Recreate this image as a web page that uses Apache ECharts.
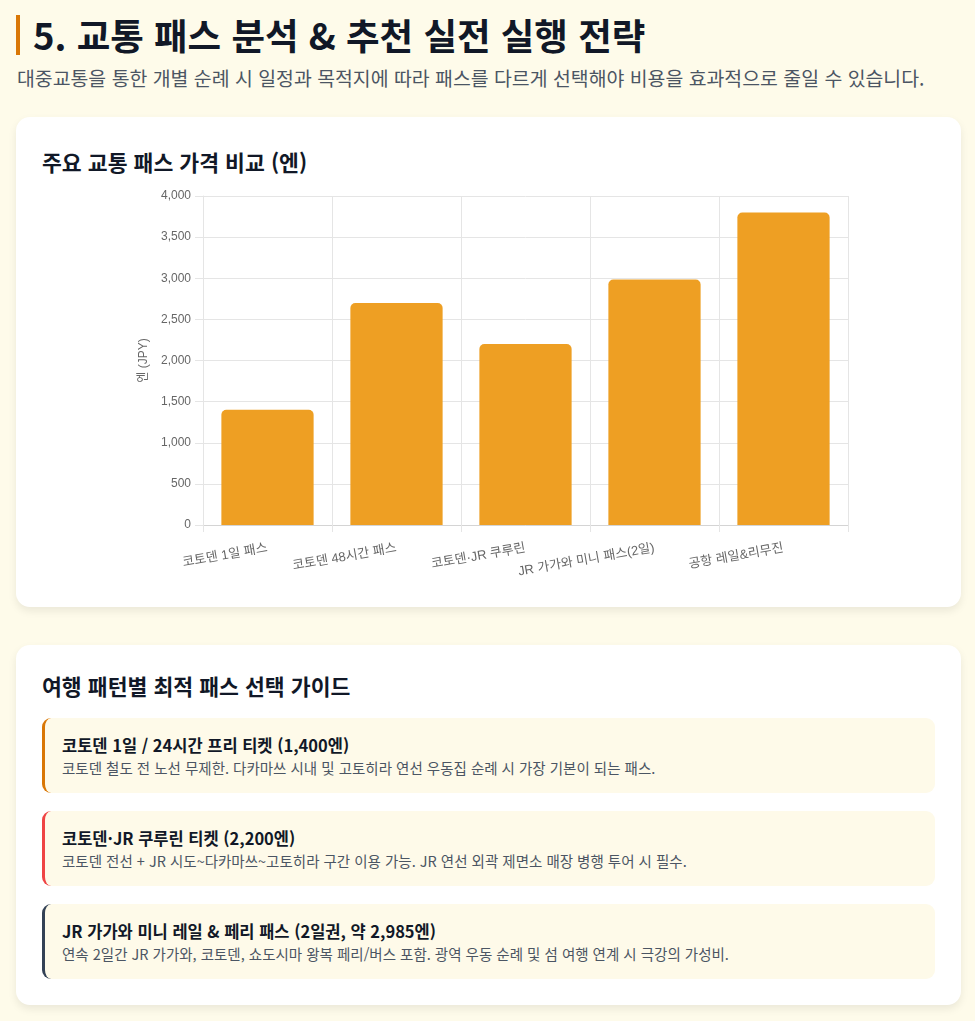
<!DOCTYPE html>
<html lang="ko">
<head>
<meta charset="utf-8">
<script src="https://cdn.jsdelivr.net/npm/echarts@6/dist/echarts.min.js"></script>
<style>
  html, body { margin:0; padding:0; }
  body { width:975px; height:1021px; background:#fefbea; position:relative; overflow:hidden;
         font-family:"Noto Sans CJK KR","Noto Sans",sans-serif; color:#111827; }
  .abs { position:absolute; }
  #h1 { left:16px; top:15px; height:40px; border-left:4px solid #d97706; padding-left:13px;
        font-size:36.5px; font-weight:700; line-height:40px; color:#111827; white-space:nowrap; }
  #sub { left:17px; top:66px; font-size:19.4px; line-height:24px; color:#4b5563; white-space:nowrap; }
  .card { background:#fff; border-radius:14px; box-shadow:0 4px 8px rgba(0,0,0,0.08); }
  .ctitle { font-size:21.6px; font-weight:700; color:#111827; white-space:nowrap; line-height:28px; }
  .item { left:26px; width:890px; height:75px; background:#fefae9; border-radius:9px; border-left:3px solid; }
  .it { position:absolute; left:17px; top:16px; font-size:16.5px; font-weight:700; line-height:22px; color:#111827; white-space:nowrap; }
  .id { position:absolute; left:17px; top:40px; font-size:14.5px; line-height:20px; color:#4b5563; white-space:nowrap; }
</style>
</head>
<body>
<div id="h1" class="abs">5. 교통 패스 분석 &amp; 추천 실전 실행 전략</div>
<div id="sub" class="abs">대중교통을 통한 개별 순례 시 일정과 목적지에 따라 패스를 다르게 선택해야 비용을 효과적으로 줄일 수 있습니다.</div>

<div class="abs card" style="left:16px;top:117px;width:945px;height:490px;">
  <div class="abs ctitle" style="left:26px;top:31px;">주요 교통 패스 가격 비교 (엔)</div>
  <div id="chart" class="abs" style="left:0;top:60px;width:945px;height:430px;"></div>
</div>

<div class="abs card" style="left:16px;top:645px;width:945px;height:360px;">
  <div class="abs ctitle" style="left:26px;top:27px;">여행 패턴별 최적 패스 선택 가이드</div>
  <div id="guide"></div>
</div>

<script>
const categories = ['코토덴 1일 패스', '코토덴 48시간 패스', '코토덴·JR 쿠루린', 'JR 가가와 미니 패스(2일)', '공항 레일&리무진'];
const prices = [1400, 2700, 2200, 2985, 3800];
const yTicks = { min: 0, max: 4000, interval: 500 };
const axisName = '엔 (JPY)';

const guideTitles = ['코토덴 1일 / 24시간 프리 티켓 (1,400엔)', '코토덴·JR 쿠루린 티켓 (2,200엔)', 'JR 가가와 미니 레일 & 페리 패스 (2일권, 약 2,985엔)'];
const guideDescs = ['코토덴 철도 전 노선 무제한. 다카마쓰 시내 및 고토히라 연선 우동집 순례 시 가장 기본이 되는 패스.',
  '코토덴 전선 + JR 시도~다카마쓰~고토히라 구간 이용 가능. JR 연선 외곽 제면소 매장 병행 투어 시 필수.',
  '연속 2일간 JR 가가와, 코토덴, 쇼도시마 왕복 페리/버스 포함. 광역 우동 순례 및 섬 여행 연계 시 극강의 가성비.'];
const guideColors = ['#d97706', '#ef4444', '#334155'];

const g = document.getElementById('guide');
guideTitles.forEach((t, i) => {
  const d = document.createElement('div');
  d.className = 'abs item';
  d.style.top = (73 + i * 93) + 'px';
  d.style.borderLeftColor = guideColors[i];
  const a = document.createElement('div'); a.className = 'it'; a.textContent = t;
  const b = document.createElement('div'); b.className = 'id'; b.textContent = guideDescs[i];
  d.appendChild(a); d.appendChild(b); g.appendChild(d);
});

const chart = echarts.init(document.getElementById('chart'));
const gridColor = '#e5e5e5';
const chartFont = '"Liberation Sans", Arial, "Noto Sans CJK KR", sans-serif';
chart.setOption({
  animation: false,
  textStyle: { fontFamily: chartFont },
  grid: { left: 187, top: 19, width: 645, height: 329 },
  xAxis: {
    type: 'category', data: categories, boundaryGap: true,
    axisLine: { show: true, lineStyle: { color: '#d4d4d4' } },
    axisTick: { show: true, length: 7, lineStyle: { color: gridColor } },
    splitLine: { show: true, lineStyle: { color: gridColor } },
    axisLabel: { rotate: 10, margin: 23, fontSize: 13, color: '#666', interval: 0, fontFamily: chartFont }
  },
  yAxis: {
    type: 'value', min: yTicks.min, max: yTicks.max, interval: yTicks.interval,
    name: axisName, nameLocation: 'middle', nameGap: 52,
    nameTextStyle: { fontSize: 12, color: '#666', fontFamily: chartFont },
    axisLine: { show: true, lineStyle: { color: gridColor } },
    axisTick: { show: true, length: 8, lineStyle: { color: gridColor } },
    splitLine: { show: true, lineStyle: { color: gridColor } },
    axisLabel: { fontSize: 12, color: '#666', margin: 12, fontFamily: chartFont,
      formatter: v => v.toLocaleString('en-US') }
  },
  series: [{
    type: 'bar', data: prices, barWidth: '71.5%',
    itemStyle: { color: '#ee9f23', borderRadius: [5, 5, 0, 0] }
  }]
});
</script>
</body>
</html>
